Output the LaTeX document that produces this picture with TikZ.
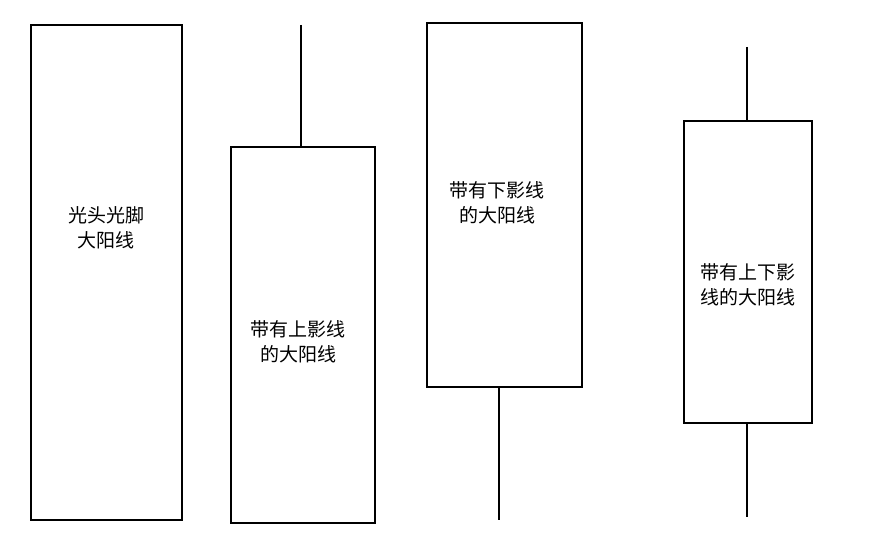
\documentclass[tikz,border=0pt]{standalone}
\usepackage{fontspec}
\newfontfamily\cjk{Noto Sans CJK SC}
\begin{document}
\begin{tikzpicture}[x=1pt,y=-1pt,
  candle/.style={draw=black,line width=1.6pt,fill=white},
  wick/.style={draw=black,line width=1.6pt},
  lbl/.style={font=\cjk\fontsize{19}{25}\selectfont,align=center}]
\useasboundingbox (0,0) rectangle (873,548);
\draw[candle] (31,25) rectangle (182,520);
\node[lbl] (t1) at (106,228) {光头光脚\\大阳线};
\coordinate (w2a) at (301,25); \coordinate (w2b) at (301,147);
\draw[wick] (w2a) -- (w2b);
\draw[candle] (231,147) rectangle (375,523);
\node[lbl] (t2) at (298,342) {带有上影线\\的大阳线};
\coordinate (w3a) at (499,387); \coordinate (w3b) at (499,520);
\draw[wick] (w3a) -- (w3b);
\draw[candle] (427,23) rectangle (582,387);
\node[lbl] (t3) at (497,203) {带有下影线\\的大阳线};
\coordinate (w4a) at (747,47); \coordinate (w4b) at (747,121);
\coordinate (w4c) at (747,423); \coordinate (w4d) at (747,517);
\draw[wick] (w4a) -- (w4b);
\draw[wick] (w4c) -- (w4d);
\draw[candle] (684,121) rectangle (812,423);
\node[lbl] (t4) at (748,285) {带有上下影\\线的大阳线};
\end{tikzpicture}
\end{document}
